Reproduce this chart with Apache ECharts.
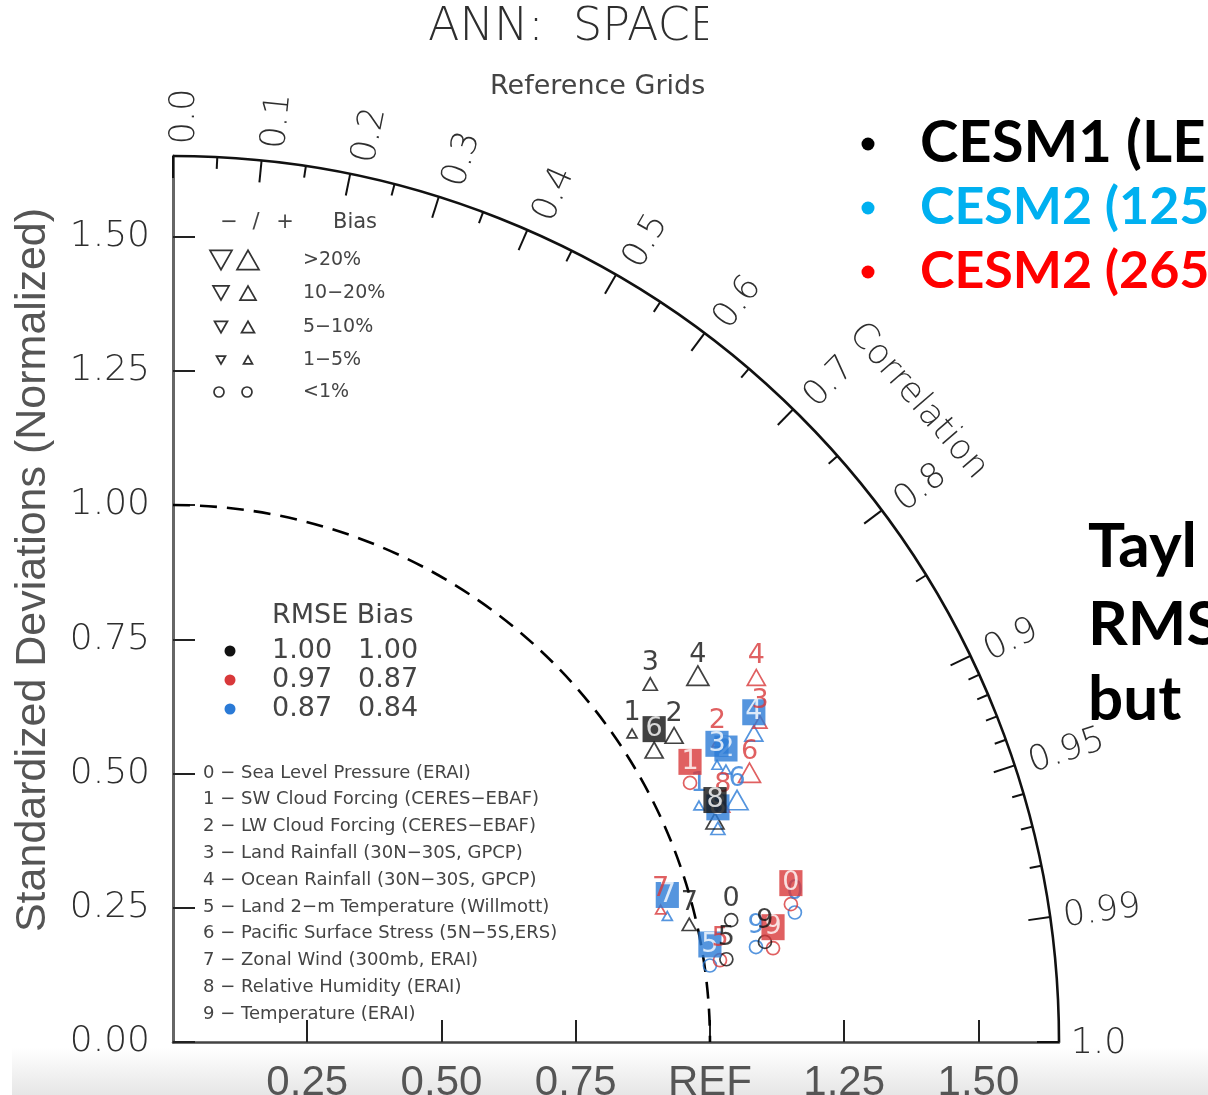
<!DOCTYPE html>
<html><head><meta charset="utf-8">
<script src="https://cdn.jsdelivr.net/npm/echarts@6/dist/echarts.min.js"></script>
<style>html,body{margin:0;padding:0;background:#fff}#c{width:1208px;height:1095px}</style>
</head><body><div id="c"></div>
<script>
// ---------- data ----------
const varLabels = ['0','1','2','3','4','5','6','7','8','9'];
const varNames = [
  '0 − Sea Level Pressure (ERAI)',
  '1 − SW Cloud Forcing (CERES−EBAF)',
  '2 − LW Cloud Forcing (CERES−EBAF)',
  '3 − Land Rainfall (30N−30S, GPCP)',
  '4 − Ocean Rainfall (30N−30S, GPCP)',
  '5 − Land 2−m Temperature (Willmott)',
  '6 − Pacific Surface Stress (5N−5S,ERS)',
  '7 − Zonal Wind (300mb, ERAI)',
  '8 − Relative Humidity (ERAI)',
  '9 − Temperature (ERAI)'
];
// normalized standard deviation, correlation, bias class (0:<1% 1:1-5% 2:5-10% 3:10-20% 4:>20%, sign = sign of bias), boxed label flag
const cesm1Std  = [1.064,1.030,1.094,1.111,1.192,1.042,1.048,0.986,1.090,1.118];
const cesm1Cor  = [0.977,0.830,0.853,0.800,0.820,0.989,0.855,0.975,0.926,0.986];
const cesm1Bias = [0,1,3,2,4,0,3,2,3,0];
const cesm1Box  = [0,0,0,0,0,0,1,0,1,0];

const redStd  = [1.179,1.077,1.157,1.245,1.281,1.030,1.185,0.941,1.114,1.131];
const redCor  = [0.976,0.894,0.876,0.878,0.848,0.989,0.906,0.965,0.919,0.988];
const redBias = [0,0,1,2,3,0,4,1,2,0];
const redBox  = [1,1,0,0,0,0,0,0,0,1];

const blueStd  = [1.183,1.074,1.148,1.137,1.225,1.010,1.143,0.950,1.090,1.100];
const blueCor  = [0.979,0.912,0.897,0.891,0.883,0.990,0.919,0.969,0.931,0.987];
const blueBias = [0,1,1,1,3,0,4,1,2,0];
const blueBox  = [0,0,1,1,1,1,0,1,1,0];

const xTickVals = [0.25,0.5,0.75,1.0,1.25,1.5];
const xTickLabels = ['0.25','0.50','0.75','REF','1.25','1.50'];
const yTickVals = [0,0.25,0.5,0.75,1.0,1.25,1.5];
const yTickLabels = ['0.00','0.25','0.50','0.75','1.00','1.25','1.50'];
const corrMajor = [0,0.1,0.2,0.3,0.4,0.5,0.6,0.7,0.8,0.9,0.95,0.99,1.0];
const corrMajorLabels = ['0.0','0.1','0.2','0.3','0.4','0.5','0.6','0.7','0.8','0.9','0.95','0.99','1.0'];
const corrMinor = [0.05,0.15,0.25,0.35,0.45,0.55,0.65,0.75,0.85,0.91,0.92,0.93,0.94,0.96,0.97,0.98];
const sdMax = 1.65;

const rmseRows = [['1.00','1.00'],['0.97','0.87'],['0.87','0.84']];
const biasRows = ['>20%','10−20%','5−10%','1−5%','<1%'];

// ---------- style ----------
const BLACK = '#111', RED = '#d8383a', BLUE = '#2a7ad6';
const F = 'DejaVu Sans';
const GREY = '#555';
const THIN = '#2e2e2e';

function toXY(sd, r){ return [sd*r, sd*Math.sqrt(Math.max(0,1-r*r))]; }
const triW = [13, 10, 14, 18, 22];

function markerData(std, cor, bias){
  return std.map((s,i)=>{
    const b = bias[i], v = toXY(s, cor[i]);
    if (b === 0) return {value: v, symbol: 'circle', symbolSize: 13};
    const w = triW[Math.abs(b)];
    return {value: v, symbol: b > 0 ? 'triangle' : 'path://M0,0L2,0L1,1.732Z', symbolSize: [w, w*0.88]};
  });
}
function labelData(std, cor, box, col){
  return std.map((s,i)=>({
    value: toXY(s, cor[i]),
    label: box[i] ? {color:'#fff', backgroundColor: col, padding:[2,3,0,3], lineHeight: 24} : {}
  }));
}
function markerSeries(std, cor, bias, col){
  return {type:'scatter', silent:true, z:3, data: markerData(std,cor,bias),
    itemStyle:{color:'rgba(0,0,0,0)', borderColor: col, borderWidth: 1.7}};
}
function labelSeries(std, cor, box, col, z){
  return {type:'scatter', silent:true, z:z, symbol:'circle', symbolSize:1,
    itemStyle:{color:'rgba(0,0,0,0)'},
    data: labelData(std,cor,box,col),
    label:{show:true, position:'inside', offset:[0,-21], formatter: p => varLabels[p.dataIndex],
      color: col, fontFamily: F, fontSize: 27}};
}

const frameSeries = {
  type:'custom', coordinateSystem:'cartesian2d', silent:true, z:2, data:[[0,0]],
  renderItem(params, api){
    const o = api.coord([0,0]);
    const R = api.size([sdMax,0])[0];
    const R1 = api.size([1,0])[0];
    const ch = [];
    ch.push({type:'arc', shape:{cx:o[0], cy:o[1], r:R1, startAngle:-Math.PI/2, endAngle:0, clockwise:true},
      style:{stroke:'#000', lineWidth:2.6, lineDash:[17,10], fill:'none'}});
    ch.push({type:'arc', shape:{cx:o[0], cy:o[1], r:R, startAngle:-Math.PI/2, endAngle:0, clockwise:true},
      style:{stroke:'#111', lineWidth:2.6, fill:'none'}});
    const tick = (c, len) => {
      const p1 = api.coord(toXY(sdMax, c)), p2 = api.coord(toXY(sdMax-len, c));
      ch.push({type:'line', shape:{x1:p1[0],y1:p1[1],x2:p2[0],y2:p2[1]}, style:{stroke:'#111', lineWidth:2}});
    };
    corrMinor.forEach(c => tick(c, 0.022));
    corrMajor.forEach((c,i) => {
      tick(c, 0.041);
      const th = Math.acos(c);
      const p = api.coord(toXY(sdMax+0.022, c));
      ch.push({type:'text', x: p[0] + 12*Math.sin(th), y: p[1] + 2*Math.cos(th), rotation: th,
        style:{text: corrMajorLabels[i], fill: THIN, font: '200 35px ' + F,
          align:'left', verticalAlign:'middle', textAlign:'left', textVerticalAlign:'middle'}});
    });
    // axis title "Correlation"
    const ta = 40.7*Math.PI/180;
    const pc = api.coord(toXY(1.83, Math.cos(ta)));
    ch.push({type:'text', x: pc[0], y: pc[1], rotation: ta - Math.PI/2,
      style:{text:'Correlation', fill: THIN, font: '200 35px ' + F,
        align:'center', verticalAlign:'middle', textAlign:'center', textVerticalAlign:'middle'}});
    return {type:'group', children: ch};
  }
};

function idx(arr, v){ for (let i=0;i<arr.length;i++) if (Math.abs(arr[i]-v)<1e-6) return i; return -1; }

// ---------- graphic (legends / slide text) ----------
const gEls = [];
gEls.push({type:'rect', z:-1, shape:{x:12, y:1048, width:1196, height:47},
  style:{fill:{type:'linear', x:0, y:0, x2:0, y2:1, colorStops:[{offset:0,color:'#ffffff'},{offset:1,color:'#e6e6e6'}]}}});
gEls.push({type:'text', z:0, x:428, y:28, style:{text:'ANN:  SPACE', fill:THIN, font:'200 46px ' + F, align:'left', verticalAlign:'middle', textAlign:'left', textVerticalAlign:'middle'}});
gEls.push({type:'text', z:0, x:490, y:87, style:{text:'Reference Grids', fill:'#444', font:'27px ' + F, align:'left', verticalAlign:'middle', textAlign:'left', textVerticalAlign:'middle'}});
gEls.push({type:'rect', z:1, shape:{x:708, y:0, width:500, height:106}, style:{fill:'#fff'}});
// y axis name
gEls.push({type:'text', x:33, y:570, rotation:Math.PI/2, style:{text:'Standardized Deviations (Normalized)', fill:GREY, font:'43px Liberation Sans', align:'center', verticalAlign:'middle', textAlign:'center', textVerticalAlign:'middle'}});
// bias legend
const T = (x,y,t,size,opt) => gEls.push(Object.assign({type:'text', x, y, style:Object.assign({text:t, fill:'#444', font: size+'px '+F, align:'left', verticalAlign:'middle', textAlign:'left', textVerticalAlign:'middle'}, opt||{})}));
T(229,223,'−',21,{align:'center',textAlign:'center'});
T(256,223,'/',21,{align:'center',textAlign:'center'});
T(285,223,'+',21,{align:'center',textAlign:'center'});
T(333,223,'Bias',21);
const legY = [260,293,327,360,392];
const legW = [22,16,13,9];
biasRows.forEach((t,i)=>{
  T(303, legY[i], t, 19);
  if (i < 4){
    const w = legW[i], h = w*0.88, cy = legY[i];
    gEls.push({type:'polygon', shape:{points:[[221-w/2,cy-h/2],[221+w/2,cy-h/2],[221,cy+h/2]]}, style:{fill:'none', stroke:'#333', lineWidth:1.7}});
    gEls.push({type:'polygon', shape:{points:[[248-w/2,cy+h/2],[248+w/2,cy+h/2],[248,cy-h/2]]}, style:{fill:'none', stroke:'#333', lineWidth:1.7}});
  } else {
    gEls.push({type:'circle', shape:{cx:219, cy:legY[i], r:5}, style:{fill:'none', stroke:'#333', lineWidth:1.7}});
    gEls.push({type:'circle', shape:{cx:247, cy:legY[i], r:5}, style:{fill:'none', stroke:'#333', lineWidth:1.7}});
  }
});
// RMSE legend
T(272,616,'RMSE Bias',27);
const rmseY = [651,680,709], rmseCol = [BLACK, RED, BLUE];
rmseRows.forEach((r,i)=>{
  gEls.push({type:'circle', shape:{cx:230, cy:rmseY[i], r:5.5}, style:{fill:rmseCol[i]}});
  T(272, rmseY[i], r[0], 27);
  T(358, rmseY[i], r[1], 27);
});
// variable list
varNames.forEach((t,i)=> T(203, 773 + 26.8*i, t, 18));
// slide text
const slide = [['CESM1 (LE','#000'],['CESM2 (125','#00b0f0'],['CESM2 (265','#ff0000']];
const slideY = [143,207,271];
slide.forEach((s,i)=>{
  gEls.push({type:'circle', shape:{cx:868, cy:slideY[i]+1, r:6.5}, style:{fill:s[1]}});
  gEls.push({type:'text', x:920, y:slideY[i], style:{text:s[0], fill:s[1], font:'bold ' + (i===0?58:52) + 'px Lato', align:'left', verticalAlign:'middle', textAlign:'left', textVerticalAlign:'middle'}});
});
[['Tayl',547],['RMS',625],['but',700]].forEach(s=>{
  gEls.push({type:'text', x:1088, y:s[1], style:{text:s[0], fill:'#000', font:'bold 62px Lato', align:'left', verticalAlign:'middle', textAlign:'left', textVerticalAlign:'middle'}});
});

// ---------- chart ----------
const chart = echarts.init(document.getElementById('c'));
chart.setOption({
  animation:false,
  backgroundColor:'#fff',
  grid:{left:173, top:156, width:886, height:886, containLabel:false, outerBoundsMode:'none'},
  xAxis:{type:'value', min:0, max:sdMax, interval:0.25,
    axisLine:{show:true, onZero:false, lineStyle:{color:'#444', width:2.5}},
    axisTick:{show:true, inside:true, length:22, customValues:xTickVals, lineStyle:{color:'#222', width:2}},
    axisLabel:{customValues:xTickVals, margin:20, fontFamily:'Liberation Sans', fontSize:42, color:GREY,
      formatter: v => { const i = idx(xTickVals, v); return i < 0 ? '' : xTickLabels[i]; }},
    splitLine:{show:false}},
  yAxis:{type:'value', min:0, max:sdMax, interval:0.25,
    axisLine:{show:true, onZero:false, lineStyle:{color:'#666', width:3}},
    axisTick:{show:true, inside:true, length:22, customValues:yTickVals, lineStyle:{color:'#222', width:2}},
    axisLabel:{customValues:yTickVals, margin:23, fontFamily:F, fontWeight:200, fontSize:36, color:THIN,
      formatter: v => { const i = idx(yTickVals, v); return i < 0 ? '' : yTickLabels[i]; }},
    splitLine:{show:false}},
  graphic:{elements:gEls},
  series:[
    frameSeries,
    markerSeries(blueStd, blueCor, blueBias, BLUE),
    markerSeries(redStd, redCor, redBias, RED),
    markerSeries(cesm1Std, cesm1Cor, cesm1Bias, BLACK),
    labelSeries(blueStd, blueCor, blueBox, BLUE, 5),
    labelSeries(redStd, redCor, redBox, RED, 6),
    labelSeries(cesm1Std, cesm1Cor, cesm1Box, BLACK, 7)
  ]
});
</script></body></html>
